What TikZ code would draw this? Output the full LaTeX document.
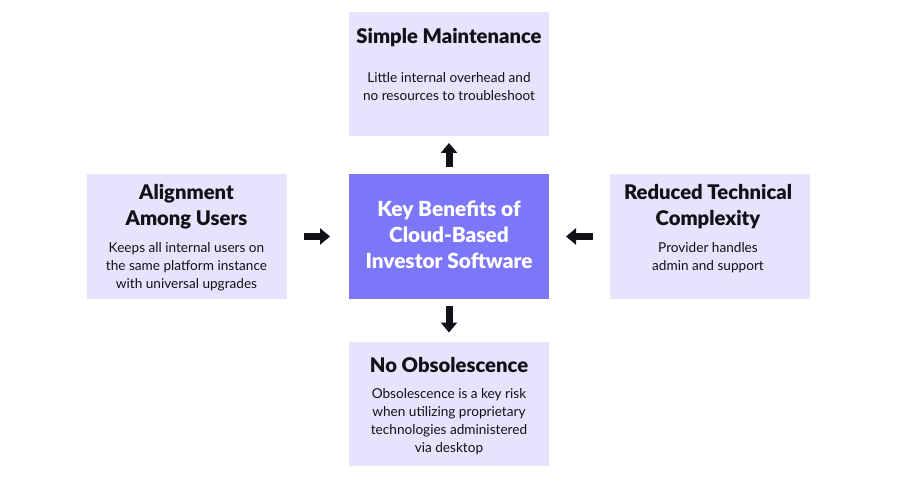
\documentclass[tikz,border=0pt]{standalone}
\usepackage{fontspec}
\setmainfont{Lato}[BoldFont={Lato Black}]
\usetikzlibrary{arrows.meta}
\definecolor{lav}{RGB}{230,228,252}
\definecolor{violet}{RGB}{124,118,248}
\definecolor{ink}{RGB}{17,17,24}
\tikzset{
  card/.style={fill=lav, draw=none, minimum width=200pt, minimum height=124pt, inner sep=0pt, outer sep=0pt},
  hub/.style={fill=violet, draw=none, minimum width=200pt, minimum height=125pt, inner sep=0pt, outer sep=0pt},
  headtxt/.style={font=\fontsize{20.2}{26}\selectfont\bfseries, text=ink, align=center, inner sep=0pt},
  hubtxt/.style={font=\fontsize{20.8}{26}\selectfont\bfseries, text=white, align=center, inner sep=0pt},
  bodytxt/.style={font=\fontsize{13.6}{18}\selectfont, text=ink, align=center, inner sep=0pt},
  blockarrow/.style={line width=7pt, ink, -{Triangle[length=10pt,width=16pt]}}
}
\begin{document}
\begin{tikzpicture}[x=1pt,y=-1pt]
\useasboundingbox[fill=white] (0,0) rectangle (900,500);
% boxes
\node[card] (top) at (449,74) {};
\node[hub] (hub) at (449,236.5) {};
\node[card] (bot) at (449,403.5) {};
\node[card] (left) at (186.5,236.5) {};
\node[card] (right) at (709.5,236.5) {};
% texts
\node[headtxt] (topH) at (449,38) {Simple Maintenance};
\node[bodytxt] (topB) at (449,86.5) {Little internal overhead and\\no resources to troubleshoot};
\node[hubtxt] (hubT) at (449,234.5) {Key Benefits of\\Cloud-Based\\Investor Software};
\node[headtxt] (botH) at (449,365) {No Obsolescence};
\node[bodytxt] (botB) at (449,422) {Obsolescence is a key risk\\when utilizing proprietary\\technologies administered\\via desktop};
\node[headtxt] (leftH) at (186.5,206.5) {Alignment\\Among Users};
\node[bodytxt] (leftB) at (186.5,266.5) {Keeps all internal users on\\the same platform instance\\with universal upgrades};
\node[headtxt] (rightH) at (708,207) {Reduced Technical\\Complexity};
\node[bodytxt] (rightB) at (708,258) {Provider handles\\admin and support};
% arrows
\draw[blockarrow, shorten <=7pt, shorten >=7pt] (hub.north) -- (top.south);
\draw[blockarrow, shorten <=7pt, shorten >=9pt] (hub.south) -- (bot.north);
\draw[blockarrow, shorten <=17pt, shorten >=19pt] (left.east) -- (hub.west);
\draw[blockarrow, shorten <=17pt, shorten >=17pt] (right.west) -- (hub.east);
\end{tikzpicture}
\end{document}
